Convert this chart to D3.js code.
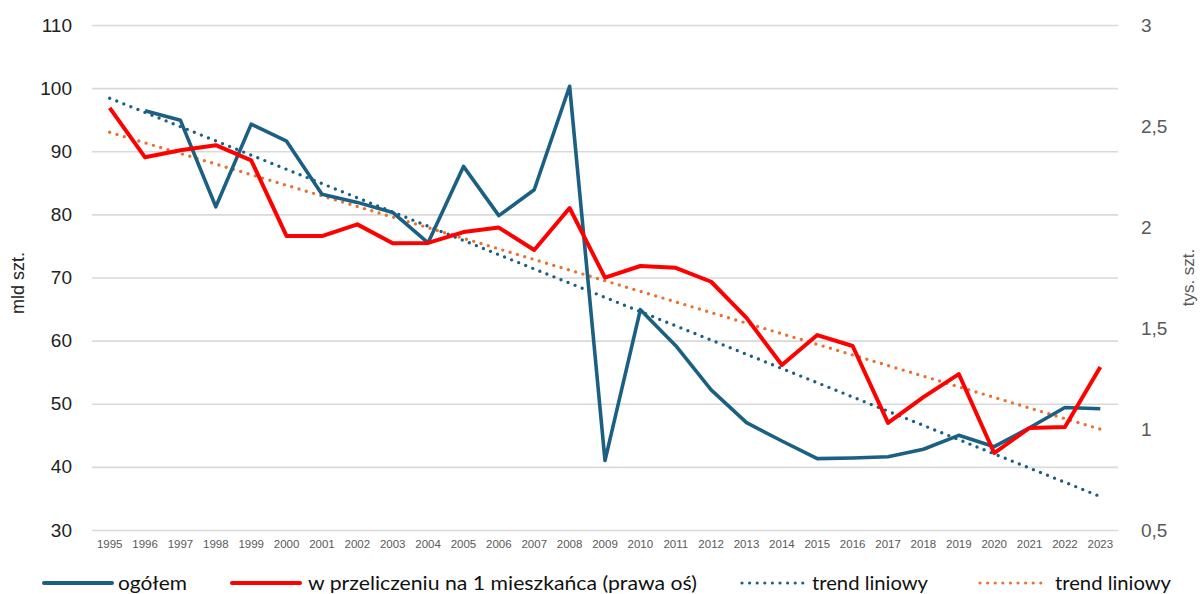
<!DOCTYPE html>
<html>
<head>
<meta charset="utf-8">
<script src="https://cdn.jsdelivr.net/npm/d3@7.9.0/dist/d3.min.js"></script>
<style>
  html, body { margin: 0; padding: 0; background: #fff; }
  svg { display: block; }
</style>
</head>
<body>
<div id="chart"></div>
<script>
// years on the category axis
const years = d3.range(1995, 2024);

// ogółem, mld szt. (left axis) - no value for 1995
const ogolem = [null, 96.4, 94.9, 81.2, 94.3, 91.6, 83.2, 81.9, 80.3, 75.5,
  87.6, 79.8, 83.9, 100.3, 41.0, 64.9, 59.2, 52.2, 47.0, 44.1,
  41.3, 41.4, 41.6, 42.8, 45.0, 43.2, 46.2, 49.4, 49.2];

// w przeliczeniu na 1 mieszkańca, tys. szt. (right axis)
const naMieszkanca = [2.59, 2.345, 2.38, 2.405, 2.33, 1.955, 1.955, 2.013, 1.92, 1.921,
  1.975, 1.997, 1.886, 2.094, 1.749, 1.807, 1.798, 1.729, 1.55, 1.317,
  1.465, 1.411, 1.03, 1.158, 1.272, 0.881, 1.005, 1.01, 1.307];

// trend endpoints
const trendYears = [1995, 2023];
const trendOgolem = [98.4, 35.3];
const trendMieszkanca = [2.469, 0.999];

const leftTicks = [30, 40, 50, 60, 70, 80, 90, 100, 110];
const rightTicks = [0.5, 1, 1.5, 2, 2.5, 3];

const width = 1200, height = 594;
const margin = { top: 25, right: 82, bottom: 64, left: 92 };

const svg = d3.select('#chart').append('svg')
  .attr('width', width).attr('height', height);

const x = d3.scaleBand()
  .domain(years)
  .range([margin.left, width - margin.right])
  .padding(0);
const cx = (yr) => x(yr) + x.bandwidth() / 2;

const yLeft = d3.scaleLinear().domain([30, 110]).range([height - margin.bottom, margin.top]);
const yRight = d3.scaleLinear().domain([0.5, 3]).range([height - margin.bottom, margin.top]);

const blue = '#1b6083';
const red = '#ff0000';
const orange = '#e97132';

// gridlines
const grid = svg.append('g')
  .attr('transform', `translate(${margin.left},0)`)
  .call(d3.axisLeft(yLeft).tickValues(leftTicks).tickFormat('')
    .tickSize(-(width - margin.left - margin.right)));
grid.select('.domain').remove();
grid.selectAll('line').attr('stroke', '#d9d9d9').attr('stroke-width', 1.6);

// left axis labels
const la = svg.append('g')
  .attr('transform', `translate(${margin.left - 20},0)`)
  .call(d3.axisLeft(yLeft).tickValues(leftTicks).tickSize(0).tickPadding(0));
la.select('.domain').remove();
la.selectAll('text')
  .attr('font-family', 'Liberation Sans, Arial, sans-serif')
  .attr('font-size', 19).attr('fill', '#222');

// right axis labels
const fmtComma = (d) => String(d).replace('.', ',');
const ra = svg.append('g')
  .attr('transform', `translate(${width - margin.right + 23},0)`)
  .call(d3.axisRight(yRight).tickValues(rightTicks).tickFormat(fmtComma).tickSize(0).tickPadding(0));
ra.select('.domain').remove();
ra.selectAll('text')
  .attr('font-family', 'Liberation Sans, Arial, sans-serif')
  .attr('font-size', 19).attr('fill', '#595959');

// x axis labels
const xa = svg.append('g')
  .attr('transform', `translate(0,${height - margin.bottom + 10})`)
  .call(d3.axisBottom(x).tickSize(0).tickPadding(0));
xa.select('.domain').remove();
xa.selectAll('text')
  .attr('font-family', 'Liberation Sans, Arial, sans-serif')
  .attr('font-size', 11.5).attr('fill', '#595959');

// axis titles
svg.append('text')
  .attr('transform', 'translate(24,283) rotate(-90)')
  .attr('text-anchor', 'middle')
  .attr('font-family', 'Liberation Sans, Arial, sans-serif')
  .attr('font-size', 18).attr('fill', '#222')
  .text('mld szt.');

svg.append('text')
  .attr('transform', `translate(1194,${(margin.top + height - margin.bottom) / 2}) rotate(-90)`)
  .attr('text-anchor', 'middle')
  .attr('font-family', 'Liberation Sans, Arial, sans-serif')
  .attr('font-size', 17).attr('fill', '#595959')
  .text('tys. szt.');

// trend lines (dotted)
const trendLeft = d3.line().x((d, i) => cx(trendYears[i])).y((d) => yLeft(d));
const trendRight = d3.line().x((d, i) => cx(trendYears[i])).y((d) => yRight(d));

svg.append('path').datum(trendOgolem)
  .attr('d', trendLeft)
  .attr('fill', 'none').attr('stroke', blue).attr('stroke-width', 3.4)
  .attr('stroke-linecap', 'round').attr('stroke-dasharray', '0 7.6');

svg.append('path').datum(trendMieszkanca)
  .attr('d', trendRight)
  .attr('fill', 'none').attr('stroke', orange).attr('stroke-width', 3.4)
  .attr('stroke-linecap', 'round').attr('stroke-dasharray', '0 7.6');

// series lines
const lineLeft = d3.line()
  .defined((d) => d != null)
  .x((d, i) => cx(years[i]))
  .y((d) => yLeft(d));
const lineRight = d3.line()
  .x((d, i) => cx(years[i]))
  .y((d) => yRight(d));

svg.append('path').datum(ogolem)
  .attr('d', lineLeft)
  .attr('fill', 'none').attr('stroke', blue).attr('stroke-width', 3.6)
  .attr('stroke-linejoin', 'round');

svg.append('path').datum(naMieszkanca)
  .attr('d', lineRight)
  .attr('fill', 'none').attr('stroke', red).attr('stroke-width', 4)
  .attr('stroke-linejoin', 'round');

// legend
const legendItems = [
  { label: 'ogółem', color: blue, dotted: false, x0: 44, x1: 112, tx: 118, tw: 69 },
  { label: 'w przeliczeniu na 1 mieszkańca (prawa oś)', color: red, dotted: false, x0: 232, x1: 300, tx: 308, tw: 389 },
  { label: 'trend liniowy', color: blue, dotted: true, x0: 742, x1: 804, tx: 812, tw: 116 },
  { label: 'trend liniowy', color: orange, dotted: true, x0: 980, x1: 1046, tx: 1055, tw: 116 }
];
const legendY = 583;
const lg = svg.append('g');
legendItems.forEach((it) => {
  lg.append('line')
    .attr('x1', it.x0).attr('x2', it.x1)
    .attr('y1', legendY).attr('y2', legendY)
    .attr('stroke', it.color)
    .attr('stroke-width', it.dotted ? 3.2 : 4)
    .attr('stroke-linecap', 'round')
    .attr('stroke-dasharray', it.dotted ? '0 7.6' : null);
  lg.append('text')
    .attr('x', it.tx).attr('y', legendY + 7)
    .attr('font-family', 'Lato, Open Sans, sans-serif')
    .attr('font-size', 20).attr('fill', '#111')
    .attr('textLength', it.tw).attr('lengthAdjust', 'spacingAndGlyphs')
    .text(it.label);
});
</script>
</body>
</html>
